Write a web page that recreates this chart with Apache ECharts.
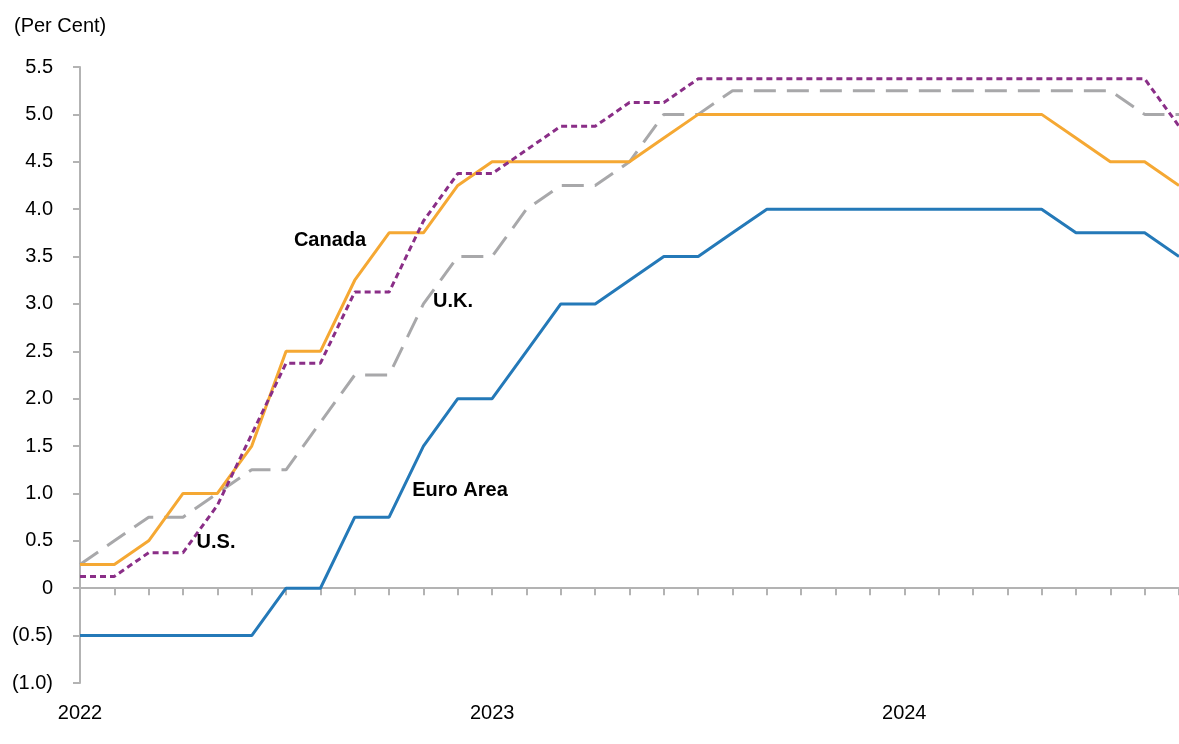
<!DOCTYPE html>
<html>
	<head>
		<meta charset="utf-8">
		<title>Policy Rates</title>
		<script src="https://cdn.jsdelivr.net/npm/echarts@6/dist/echarts.min.js"></script>
		<style>
			html, body { margin: 0; padding: 0; background: #fff; }
		</style>
	</head>
	<body>
		<div id="main" style="width: 1179px;height:744px;"></div>
		<script type="text/javascript">
			// monthly, Jan 2022 .. Sep 2024
			var months = [
				'2022-01', '2022-02', '2022-03', '2022-04', '2022-05', '2022-06',
				'2022-07', '2022-08', '2022-09', '2022-10', '2022-11', '2022-12',
				'2023-01', '2023-02', '2023-03', '2023-04', '2023-05', '2023-06',
				'2023-07', '2023-08', '2023-09', '2023-10', '2023-11', '2023-12',
				'2024-01', '2024-02', '2024-03', '2024-04', '2024-05', '2024-06',
				'2024-07', '2024-08', '2024-09'
			];
			var yearLabels = ['2022', '2023', '2024'];

			var canada = [0.25, 0.25, 0.5, 1.0, 1.0, 1.5, 2.5, 2.5, 3.25, 3.75, 3.75, 4.25,
				4.5, 4.5, 4.5, 4.5, 4.5, 4.75, 5.0, 5.0, 5.0, 5.0, 5.0, 5.0,
				5.0, 5.0, 5.0, 5.0, 5.0, 4.75, 4.5, 4.5, 4.25];
			var us = [0.125, 0.125, 0.375, 0.375, 0.875, 1.625, 2.375, 2.375, 3.125, 3.125, 3.875, 4.375,
				4.375, 4.625, 4.875, 4.875, 5.125, 5.125, 5.375, 5.375, 5.375, 5.375, 5.375, 5.375,
				5.375, 5.375, 5.375, 5.375, 5.375, 5.375, 5.375, 5.375, 4.875];
			var uk = [0.25, 0.5, 0.75, 0.75, 1.0, 1.25, 1.25, 1.75, 2.25, 2.25, 3.0, 3.5,
				3.5, 4.0, 4.25, 4.25, 4.5, 5.0, 5.0, 5.25, 5.25, 5.25, 5.25, 5.25,
				5.25, 5.25, 5.25, 5.25, 5.25, 5.25, 5.25, 5.0, 5.0];
			var euroArea = [-0.5, -0.5, -0.5, -0.5, -0.5, -0.5, 0, 0, 0.75, 0.75, 1.5, 2.0,
				2.0, 2.5, 3.0, 3.0, 3.25, 3.5, 3.5, 3.75, 4.0, 4.0, 4.0, 4.0,
				4.0, 4.0, 4.0, 4.0, 4.0, 3.75, 3.75, 3.75, 3.5];

			// series names drawn as text next to the lines
			var notes = [
				{ text: 'Canada', x: 330, y: 240 },
				{ text: 'U.K.', x: 453, y: 301 },
				{ text: 'U.S.', x: 216, y: 542 },
				{ text: 'Euro Area', x: 460, y: 490 }
			];

			var font = 'Liberation Sans, Arial, sans-serif';
			var axisGrey = '#b3b3b3';

			var myChart = echarts.init(document.getElementById('main'));

			function lineSeries(name, data, color, type, width) {
				return {
					name: name,
					type: 'line',
					data: data,
					symbol: 'none',
					animation: false,
					lineStyle: {
						color: color,
						width: width,
						type: type,
						cap: 'butt'
					}
				};
			}

			var option = {
				backgroundColor: '#fff',
				animation: false,
				title: {
					text: '(Per Cent)',
					left: 9,
					top: 11,
					textStyle: {
						fontFamily: font,
						fontSize: 20,
						fontWeight: 'normal',
						color: '#000'
					}
				},
				grid: {
					left: 80,
					top: 67,
					bottom: 61,
					right: -2
				},
				xAxis: [{
					type: 'category',
					data: months,
					boundaryGap: false,
					axisLine: {
						onZero: true,
						lineStyle: { color: axisGrey, width: 2 }
					},
					axisTick: {
						show: true,
						interval: 0,
						length: 7,
						lineStyle: { color: axisGrey, width: 2 }
					},
					axisLabel: { show: false },
					splitLine: { show: false }
				}, {
					type: 'category',
					data: months,
					position: 'bottom',
					boundaryGap: false,
					axisLine: { show: false, onZero: false },
					axisTick: { show: false },
					splitLine: { show: false },
					axisLabel: {
						interval: function(index) {
							return index % 12 === 0;
						},
						formatter: function(value) {
							var y = value.slice(0, 4);
							return yearLabels.indexOf(y) >= 0 ? y : '';
						},
						margin: 20,
						fontFamily: font,
						fontSize: 20,
						color: '#000'
					}
				}],
				yAxis: {
					type: 'value',
					min: -1,
					max: 5.5,
					interval: 0.5,
					axisLine: {
						show: true,
						lineStyle: { color: axisGrey, width: 2 }
					},
					axisTick: {
						show: true,
						length: 7,
						lineStyle: { color: axisGrey, width: 2 }
					},
					splitLine: { show: false },
					axisLabel: {
						margin: 27,
						fontFamily: font,
						fontSize: 20,
						color: '#000',
						formatter: function(v) {
							if (v === 0) return '0';
							if (v < 0) return '(' + Math.abs(v).toFixed(1) + ')';
							return v.toFixed(1);
						}
					}
				},
				graphic: notes.map(function(n) {
					return {
						type: 'text',
						x: n.x,
						y: n.y,
						z: 100,
						style: {
							text: n.text,
							fill: '#000',
							font: 'bold 20px ' + font,
							align: 'center',
							verticalAlign: 'middle',
							textAlign: 'center',
							textVerticalAlign: 'middle'
						}
					};
				}),
				series: [
					lineSeries('Euro Area', euroArea, '#2479b8', 'solid', 3),
					lineSeries('U.K.', uk, '#a8a8aa', [22, 11], 3),
					lineSeries('Canada', canada, '#f5a833', 'solid', 3),
					lineSeries('U.S.', us, '#8a2e87', [6, 4], 3)
				]
			};

			myChart.setOption(option);
		</script>
	</body>
</html>
